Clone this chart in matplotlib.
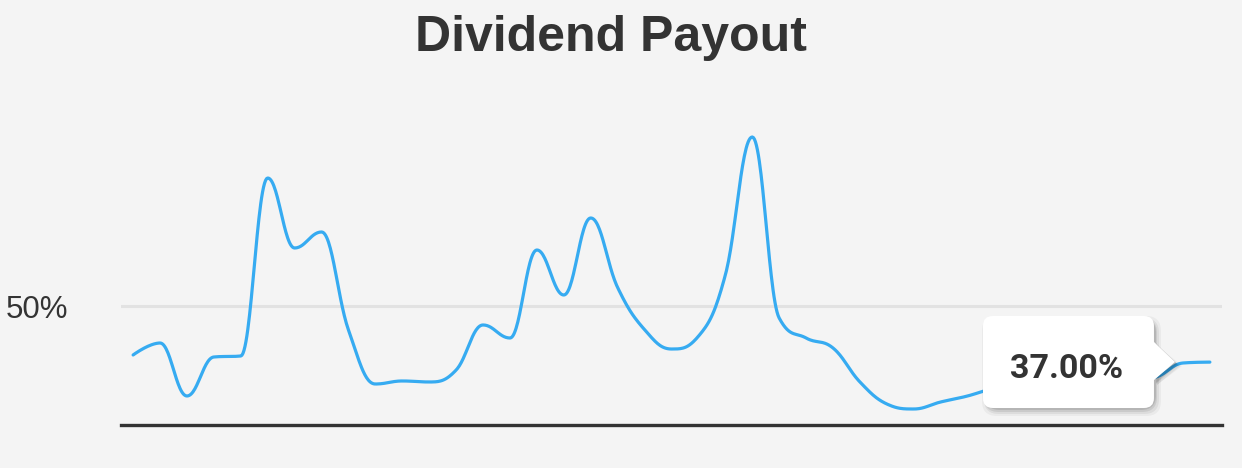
import numpy as np
import matplotlib
matplotlib.use("Agg")
import matplotlib.pyplot as plt
from matplotlib.patches import FancyBboxPatch, Polygon

# ---- data (dividend payout ratio, %) ----
payout = [38.83, 41.56, 29.48, 38.37, 38.60, 79.19, 63.23, 66.88, 44.53, 32.21,
          32.90, 32.67, 35.40, 45.67, 42.70, 62.77, 52.51, 70.07, 54.20, 44.60,
          40.19, 43.10, 57.07, 88.54, 47.26, 42.70, 40.42, 32.67, 27.65, 26.51,
          28.11, 29.48, 31.30, 32.20, 32.70, 33.10, 33.40, 33.10, 33.80, 37.00,
          37.20]
ytick_vals = [50]
ytick_labels = ["50%"]
title = "Dividend Payout"
tooltip_index = 39
tooltip_text = "37.00%"

BG = "#f4f4f4"
LINE = "#36abf1"
TXT = "#333333"

W, H, DPI = 12.42, 4.68, 100
fig = plt.figure(figsize=(W, H), dpi=DPI, facecolor=BG)
ax = fig.add_axes([121 / 1242, 1 - 425 / 468, (1222 - 121) / 1242, (425 - 100) / 468])
ax.set_facecolor(BG)

x = np.arange(len(payout), dtype=float)
y = np.array(payout, dtype=float)


def spline(xs, ys, smoothing=1.5, n=30):
    denom = smoothing + 1
    N = len(xs)
    lc = np.zeros((N, 2))
    rc = np.zeros((N, 2))
    for i in range(N):
        px, py = xs[i], ys[i]
        if 0 < i < N - 1:
            lx = (smoothing * px + xs[i - 1]) / denom
            ly = (smoothing * py + ys[i - 1]) / denom
            rx = (smoothing * px + xs[i + 1]) / denom
            ry = (smoothing * py + ys[i + 1]) / denom
            corr = ((ry - ly) * (rx - px)) / (rx - lx) + py - ry
            ly += corr
            ry += corr
            if ly > max(ys[i - 1], py):
                ly = max(ys[i - 1], py); ry = 2 * py - ly
            elif ly < min(ys[i - 1], py):
                ly = min(ys[i - 1], py); ry = 2 * py - ly
            if ry > max(py, ys[i + 1]):
                ry = max(py, ys[i + 1]); ly = 2 * py - ry
            elif ry < min(py, ys[i + 1]):
                ry = min(py, ys[i + 1]); ly = 2 * py - ry
            lc[i] = (lx, ly)
            rc[i] = (rx, ry)
        else:
            lc[i] = (px, py)
            rc[i] = (px, py)
    t = np.linspace(0, 1, n)[:, None]
    out = []
    for i in range(N - 1):
        p0 = np.array([xs[i], ys[i]])
        p1 = rc[i]
        p2 = lc[i + 1]
        p3 = np.array([xs[i + 1], ys[i + 1]])
        seg = ((1 - t) ** 3) * p0 + 3 * ((1 - t) ** 2) * t * p1 + 3 * (1 - t) * t ** 2 * p2 + t ** 3 * p3
        out.append(seg if i == 0 else seg[1:])
    pts = np.vstack(out)
    return pts[:, 0], pts[:, 1]


sx, sy = spline(x, y)
ax.plot(sx, sy, color=LINE, lw=2.3, solid_capstyle="round", solid_joinstyle="round", zorder=3)

k = 57 / 13.0
ax.set_xlim(-0.45, 40.45)
ax.set_ylim(50 - 119 / k, 50 + 206 / k)

ax.set_yticks(ytick_vals)
ax.set_yticklabels(ytick_labels)
ax.set_xticks([])
ax.tick_params(axis="y", length=0, pad=38, labelsize=22.5, labelcolor=TXT)
for lab in ax.get_yticklabels():
    lab.set_fontfamily("Liberation Sans")
ax.grid(axis="y", color="#e2e2e2", lw=2.2, zorder=1)
for s in ["top", "right", "left"]:
    ax.spines[s].set_visible(False)
ax.spines["bottom"].set_color(TXT)
ax.spines["bottom"].set_linewidth(2.4)
ax.spines["bottom"].set_zorder(4)

fig.text(611 / 1242, 1 - 38 / 468, title, ha="center", va="center",
         fontsize=36, fontweight="bold", color=TXT, family="Liberation Sans")

# ---- tooltip anchored to the hovered data point ----
fig.canvas.draw()
px_, py_ = ax.transData.transform((x[tooltip_index], y[tooltip_index]))
tipx, tipy = px_ - 8, py_ + 1
right = tipx - 21
left = right - 171
top = tipy + 46
bot = tipy - 46
inv = fig.transFigure.inverted()


def fx(p):
    return inv.transform(p)


for i, (dx, dy, grow, a) in enumerate([(3, -4, 4, 0.04), (3, -4, 2, 0.06), (2, -3, 1, 0.08), (2, -2, 0, 0.10)]):
    (l0, b0) = fx((left + dx - grow, bot + dy - grow))
    (r0, t0) = fx((right + dx + grow, top + dy + grow))
    fig.patches.append(FancyBboxPatch((l0, b0), r0 - l0, t0 - b0,
                                      boxstyle="round,pad=0,rounding_size=0.012",
                                      transform=fig.transFigure, fc="black", ec="none",
                                      alpha=a, zorder=5, mutation_aspect=1242 / 468))
    sh = [fx((right + dx, tipy + 21 + dy)), fx((tipx + dx + grow, tipy + dy)), fx((right + dx, tipy - 19 + dy))]
    fig.patches.append(Polygon(sh, closed=True, transform=fig.transFigure, fc="black",
                               ec="none", alpha=a, zorder=5))

(l0, b0) = fx((left, bot))
(r0, t0) = fx((right, top))
fig.patches.append(FancyBboxPatch((l0, b0), r0 - l0, t0 - b0,
                                  boxstyle="round,pad=0,rounding_size=0.008",
                                  transform=fig.transFigure, fc="white", ec="none",
                                  zorder=6, mutation_aspect=1242 / 468))
tri = [fx((right - 1, tipy + 21)), fx((tipx, tipy)), fx((right - 1, tipy - 19))]
fig.patches.append(Polygon(tri, closed=True, transform=fig.transFigure, fc="white",
                           ec="none", zorder=6))
cx, cy = fx(((left + right) / 2 - 2, tipy - 7))
fig.text(cx, cy, tooltip_text, ha="center", va="center", fontsize=24.5,
         fontweight="bold", color=TXT, family="Roboto", zorder=7)

fig.savefig("out.png", dpi=DPI, facecolor=BG)
